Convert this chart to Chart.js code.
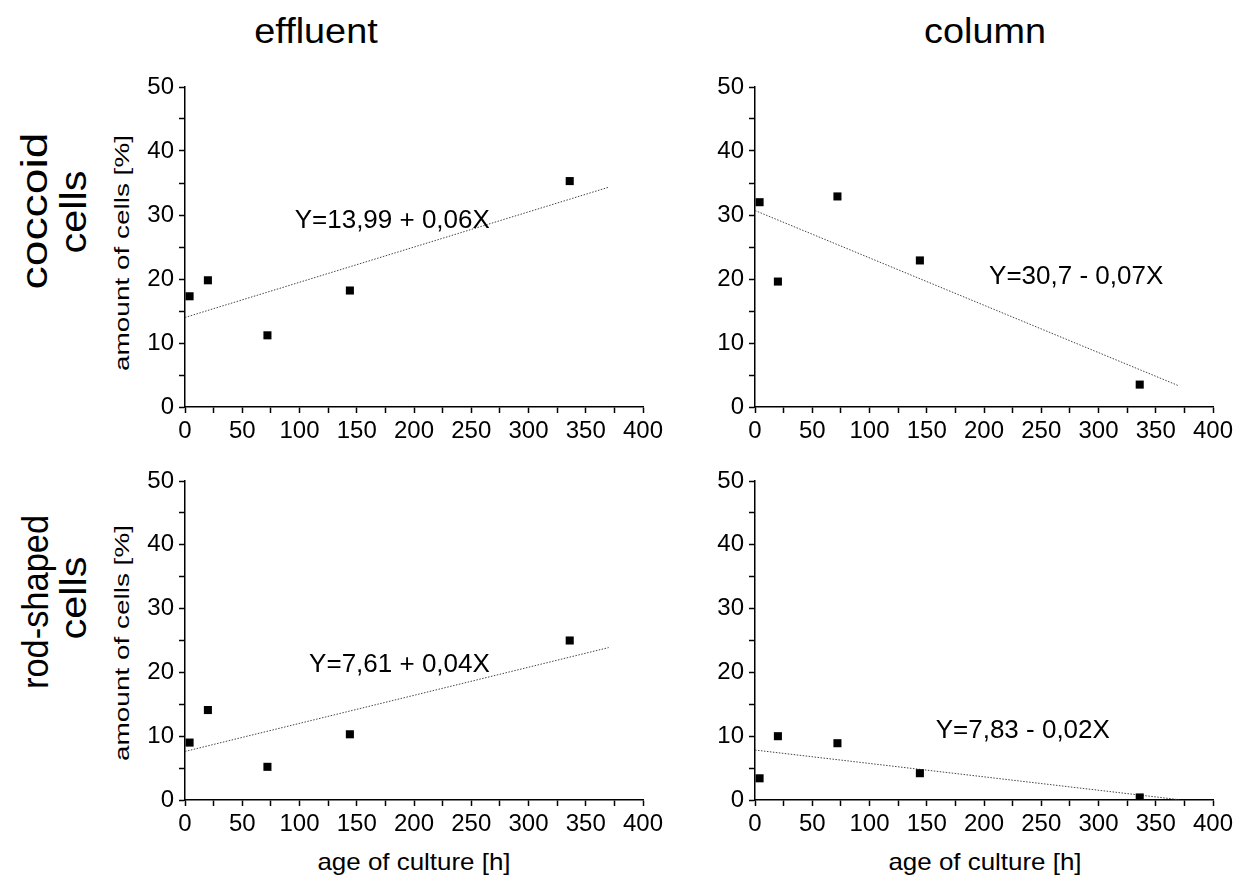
<!DOCTYPE html>
<html>
<head>
<meta charset="utf-8">
<title>Cell shape vs. age of culture</title>
<script src="https://cdn.jsdelivr.net/npm/chart.js@4"></script>
<style>
  html, body { margin: 0; padding: 0; background: #fff; }
  body { width: 1239px; height: 879px; position: relative; overflow: hidden;
         font-family: "Liberation Sans", Arial, sans-serif; color: #000; }
  canvas { position: absolute; }
  .lbl { position: absolute; white-space: nowrap; line-height: 1; transform-origin: center center; }
  .title { font-size: 35px; transform: translate(-50%, -50%) scaleX(1.08); }
  .row { font-size: 37px; }
  .ytitle { font-size: 21px; transform: translate(-50%, -50%) rotate(-90deg) scaleX(1.33); }
  .xtitle { font-size: 24px; transform: translate(-50%, -50%) scaleX(1.08); }
</style>
</head>
<body>
<div class="lbl title" style="left:316px; top:30px;">effluent</div>
<div class="lbl title" style="left:985px; top:30px;">column</div>

<div class="lbl row" style="left:34px; top:211px; transform: translate(-50%, -50%) rotate(-90deg) scaleX(1.25);">coccoid</div>
<div class="lbl row" style="left:73px; top:212px; transform: translate(-50%, -50%) rotate(-90deg) scaleX(1.12);">cells</div>
<div class="lbl row" style="left:35px; top:602px; transform: translate(-50%, -50%) rotate(-90deg) scaleX(0.93);">rod-shaped</div>
<div class="lbl row" style="left:73px; top:598px; transform: translate(-50%, -50%) rotate(-90deg) scaleX(1.12);">cells</div>

<div class="lbl ytitle" style="left:121px; top:253px;">amount of cells [%]</div>
<div class="lbl ytitle" style="left:121px; top:643px;">amount of cells [%]</div>

<div class="lbl xtitle" style="left:414px; top:862px;">age of culture [h]</div>
<div class="lbl xtitle" style="left:985px; top:862px;">age of culture [h]</div>

<script>
// Sampling times (h) and share of cells (%) for each morphotype and location
const hours = [4, 20, 72, 144, 336];
const coccoidEffluent = [17.3, 19.8, 11.2, 18.2, 35.3];
const coccoidColumn   = [32.0, 19.6, 32.9, 22.9, 3.5];
const rodEffluent     = [9.0, 14.1, 5.2, 10.3, 25.0];
const rodColumn       = [3.4, 10.0, 8.9, 4.2, 0.4];

// Linear fits (intercept, slope) and the x-range they are drawn over
const fitIntercepts = [13.99, 30.7, 7.61, 7.83];
const fitSlopes     = [0.055, -0.074, 0.044, -0.021];
const fitRange      = [0, 370];
const equations     = ['Y=13,99 + 0,06X', 'Y=30,7 - 0,07X', 'Y=7,61 + 0,04X', 'Y=7,83 - 0,02X'];

// Axis ticks
const xTickStep = 25, xLabelStep = 50, xMin = 0, xMax = 400;
const yTickStep = 5,  yLabelStep = 10, yMin = 0, yMax = 50;

const FONT = '"Liberation Sans", Arial, sans-serif';

// Panel layout: plot-area rectangle in page pixels, and where the equation sits (data units)
const panels = [
  { series: coccoidEffluent, fit: 0, area: { left: 185, top: 87,  width: 458, height: 320 }, eqAt: { x: 95.8,  y: 28.0 } },
  { series: coccoidColumn,   fit: 1, area: { left: 755, top: 87,  width: 458, height: 320 }, eqAt: { x: 204.4, y: 19.2 } },
  { series: rodEffluent,     fit: 2, area: { left: 185, top: 481, width: 458, height: 319 }, eqAt: { x: 108.4, y: 20.1 } },
  { series: rodColumn,       fit: 3, area: { left: 755, top: 481, width: 458, height: 319 }, eqAt: { x: 157.8, y: 9.66 } }
];

const PAD_LEFT = 95, PAD_TOP = 20, PAD_RIGHT = 40, PAD_BOTTOM = 45;

// Writes the regression equation inside the plot
const equationPlugin = {
  id: 'equation',
  afterDatasetsDraw(chart, args, opts) {
    const { ctx, scales } = chart;
    ctx.save();
    ctx.font = '26px ' + FONT;
    ctx.fillStyle = '#000';
    ctx.textAlign = 'left';
    ctx.textBaseline = 'alphabetic';
    ctx.fillText(opts.text, scales.x.getPixelForValue(opts.x), scales.y.getPixelForValue(opts.y));
    ctx.restore();
  }
};

function axisCommon(step, labelStep) {
  return {
    grid: { display: true, drawOnChartArea: false, drawTicks: true, tickLength: 6, tickWidth: 1.5, tickColor: '#000' },
    border: { display: true, color: '#000', width: 1.5 },
    ticks: {
      stepSize: step, autoSkip: false, maxRotation: 0, minRotation: 0, color: '#000',
      font: { family: FONT, size: 24 },
      callback: v => (v % labelStep === 0 ? String(v) : '')
    }
  };
}

panels.forEach(p => {
  const w = PAD_LEFT + p.area.width + PAD_RIGHT;
  const h = PAD_TOP + p.area.height + PAD_BOTTOM;
  const canvas = document.createElement('canvas');
  canvas.width = w; canvas.height = h;
  canvas.style.width = w + 'px'; canvas.style.height = h + 'px';
  canvas.style.left = (p.area.left - PAD_LEFT) + 'px';
  canvas.style.top = (p.area.top - PAD_TOP) + 'px';
  document.body.appendChild(canvas);

  const a = fitIntercepts[p.fit], b = fitSlopes[p.fit];
  const xAxis = axisCommon(xTickStep, xLabelStep);
  const yAxis = axisCommon(yTickStep, yLabelStep);

  new Chart(canvas, {
    type: 'scatter',
    data: {
      datasets: [
        {
          data: hours.map((hr, i) => ({ x: hr, y: p.series[i] })),
          pointStyle: 'rect', pointRadius: 5.7, pointHoverRadius: 5.7,
          backgroundColor: '#000', borderWidth: 0, showLine: false
        },
        {
          data: fitRange.map(x => ({ x, y: a + b * x })),
          showLine: true, borderColor: '#444', borderWidth: 1, borderDash: [1.5, 1.5],
          pointRadius: 0, fill: false
        }
      ]
    },
    options: {
      responsive: false, animation: false, devicePixelRatio: 1,
      layout: { padding: { left: 0, top: PAD_TOP, right: PAD_RIGHT, bottom: 0 } },
      plugins: {
        legend: { display: false }, tooltip: { enabled: false },
        equation: { text: equations[p.fit], x: p.eqAt.x, y: p.eqAt.y }
      },
      scales: {
        x: Object.assign({ type: 'linear', position: 'bottom', min: xMin, max: xMax,
          afterFit: s => { s.height = PAD_BOTTOM; } }, xAxis,
          { ticks: Object.assign({}, xAxis.ticks, { padding: 4 }) }),
        y: Object.assign({ type: 'linear', position: 'left', min: yMin, max: yMax,
          afterFit: s => { s.width = PAD_LEFT; } }, yAxis,
          { ticks: Object.assign({}, yAxis.ticks, { padding: 5 }) })
      }
    },
    plugins: [equationPlugin]
  });
});
</script>
</body>
</html>
